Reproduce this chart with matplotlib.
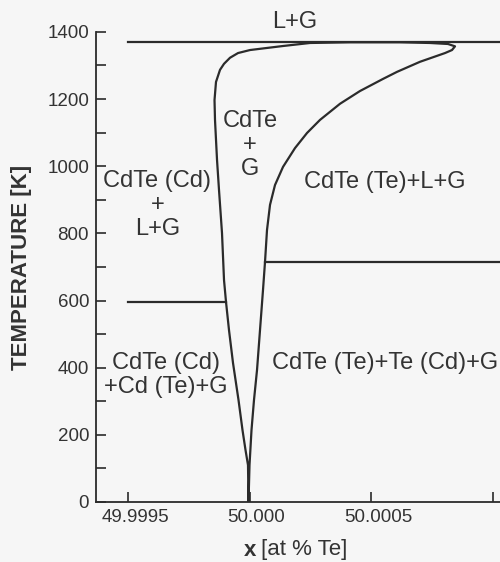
import matplotlib
matplotlib.use("Agg")
import matplotlib.pyplot as plt
from matplotlib.transforms import ScaledTranslation

plt.rcParams["font.family"] = ["Liberation Sans", "DejaVu Sans"]

INK = "#2b2b2b"
TXT = "#333333"
BG = "#f6f6f6"

# phase boundary of CdTe: left branch (Cd side) from bottom up, along the top,
# then the right branch (Te side) back down to the bottom
boundary_x = [
    49.9999959, 49.9999938, 49.9999835, 49.9999712, 49.9999547, 49.9999321,
    49.9999156, 49.9999033, 49.9998951, 49.9998868, 49.9998745, 49.9998663,
    49.9998580, 49.9998560, 49.9998621, 49.9998786, 49.9998951, 49.9999198,
    49.9999527, 50.0000021,
    50.0001379, 50.0002490, 50.0004136, 50.0006193, 50.0007427, 50.0008168,
    50.0008456, 50.0008333, 50.0008045, 50.0007016, 50.0006070, 50.0005494,
    50.0004548, 50.0003725, 50.0002902, 50.0002367, 50.0001872, 50.0001379,
    50.0001049, 50.0000844, 50.0000720, 50.0000638, 50.0000556, 50.0000432,
    50.0000309, 50.0000185, 50.0000082, 50.0000000, 49.9999959,
]
boundary_T = [
    0, 110, 155, 214, 304, 414,
    512, 596, 661, 801, 929, 1019,
    1138, 1197, 1251, 1287, 1305, 1323,
    1337, 1346,
    1358, 1367, 1369, 1369, 1367, 1364,
    1357, 1346, 1337, 1311, 1281, 1260,
    1224, 1186, 1138, 1099, 1054, 998,
    944, 885, 810, 715, 632, 512,
    393, 304, 214, 110, 0,
]

# three-phase lines: (x start, x end, T)
tie_lines = [
    (49.9995, 50.0011, 1370),
    (49.9995, 49.9999033, 596),
    (50.0000638, 50.0011, 715),
]

region_labels = [
    ("L+G", 50.000187, 1430),
    ("CdTe (Cd)\n+\nL+G", 49.999621, 885),
    ("CdTe\n+\nG", 50.000002, 1063),
    ("CdTe (Te)+L+G", 50.000558, 953),
    ("CdTe (Cd)\n+Cd (Te)+G", 49.999655, 378),
    ("CdTe (Te)+Te (Cd)+G", 50.000556, 414),
]

x_ticks = [49.9995, 50.0000, 50.0005, 50.0010]
x_tick_labels = ["49.9995", "50.000", "50.0005", ""]
y_ticks = [0, 200, 400, 600, 800, 1000, 1200, 1400]
y_minor = [100, 300, 500, 700, 900, 1100, 1300]

fig = plt.figure(figsize=(5, 5.62), dpi=100, facecolor=BG)
ax = fig.add_axes([96 / 500, 60 / 562, 404 / 500, 502 / 562])
ax.set_facecolor(BG)

ax.plot(boundary_x, boundary_T, color=INK, lw=1.6, solid_joinstyle="round")
for x0, x1, t in tie_lines:
    ax.plot([x0, x1], [t, t], color=INK, lw=1.6)

for txt, x, t in region_labels:
    ax.text(x, t, txt, ha="center", va="center", fontsize=17, color=TXT,
            linespacing=1.1)

ax.set_xlim(49.9993683, 50.0010308)
ax.set_ylim(0, 1495)

for s in ["top", "right"]:
    ax.spines[s].set_visible(False)
for s in ["left", "bottom"]:
    ax.spines[s].set_color(INK)
    ax.spines[s].set_linewidth(1.3)
ax.spines["left"].set_bounds(0, 1400)

ax.set_xticks(x_ticks)
ax.set_xticklabels(x_tick_labels)
ax.set_yticks(y_ticks)
ax.set_yticks(y_minor, minor=True)
ax.tick_params(axis="both", which="both", direction="in", length=7.5,
               width=1.2, color=INK, labelcolor=TXT, labelsize=13.5)
ax.tick_params(axis="y", pad=5)
ax.tick_params(axis="x", pad=5)

shift = ScaledTranslation(7 / 100, 0, fig.dpi_scale_trans)
for lab in ax.get_xticklabels():
    lab.set_transform(lab.get_transform() + shift)

fig.text(22 / 500, 1 - 267 / 562, "TEMPERATURE [K]", rotation=90,
         ha="center", va="center", fontsize=16, fontweight="bold", color=TXT)
fig.text(256 / 500, 1 - 550 / 562, "x", ha="right", va="center",
         fontsize=16, fontweight="bold", color=TXT)
fig.text(261 / 500, 1 - 550 / 562, "[at % Te]", ha="left", va="center",
         fontsize=16, color=TXT)

fig.savefig("out.png", dpi=100, facecolor=BG)
